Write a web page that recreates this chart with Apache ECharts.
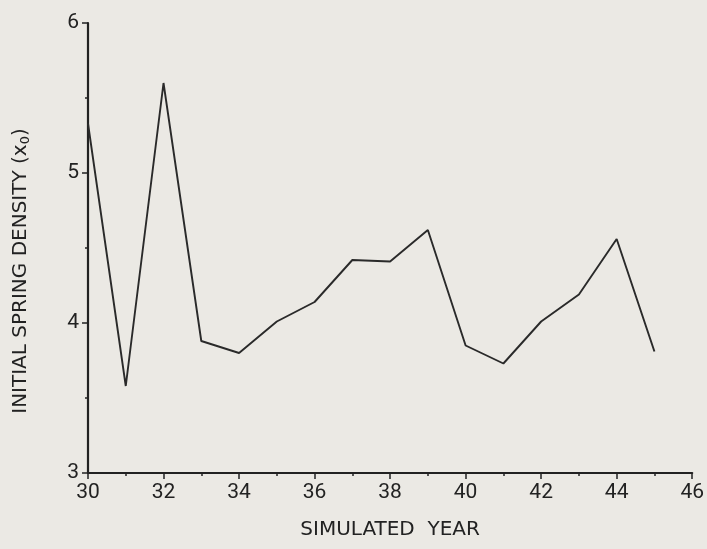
<!DOCTYPE html>
<html>
<head>
<meta charset="utf-8">
<script src="https://cdn.jsdelivr.net/npm/echarts@6/dist/echarts.min.js"></script>
<style>
  html, body { margin: 0; padding: 0; background: #ebe9e4; }
  #chart { width: 707px; height: 549px; }
</style>
</head>
<body>
<div id="chart"></div>
<script>
// simulated years and initial spring density
const years = [30, 31, 32, 33, 34, 35, 36, 37, 38, 39, 40, 41, 42, 43, 44, 45];
const density = [5.33, 3.58, 5.6, 3.88, 3.8, 4.01, 4.14, 4.42, 4.41, 4.62, 3.85, 3.73, 4.01, 4.19, 4.56, 3.81];

const xTicks = { min: 30, max: 46, step: 2 };
const yTicks = { min: 3, max: 6, step: 1 };

const ink = "#222";
const tickFont = "Roboto, sans-serif";
const nameFont = "'DejaVu Sans', sans-serif";

const chart = echarts.init(document.getElementById("chart"));

chart.setOption({
  backgroundColor: "#ebe9e4",
  animation: false,
  grid: { left: 88, right: 12, top: 23, bottom: 76 },
  xAxis: {
    type: "value",
    min: xTicks.min,
    max: xTicks.max,
    interval: xTicks.step,
    name: "SIMULATED  YEAR",
    nameLocation: "middle",
    nameGap: 47,
    nameTextStyle: { color: ink, fontSize: 20, fontFamily: nameFont },
    axisLine: { lineStyle: { color: ink, width: 2.2 } },
    axisTick: { inside: false, length: 6, lineStyle: { color: ink, width: 1.5 } },
    minorTick: { show: true, splitNumber: 2, length: 3, lineStyle: { color: ink, width: 1.5 } },
    axisLabel: { color: ink, fontSize: 21, fontFamily: tickFont, margin: 9 },
    splitLine: { show: false },
  },
  yAxis: {
    type: "value",
    min: yTicks.min,
    max: yTicks.max,
    interval: yTicks.step,
    name: "INITIAL SPRING DENSITY (x{sub|0})",
    nameLocation: "middle",
    nameGap: 56,
    nameTextStyle: {
      color: ink,
      fontSize: 20,
      fontFamily: nameFont,
      padding: [0, 46, 0, 0],
      rich: { sub: { fontSize: 13, fontFamily: nameFont, color: ink, verticalAlign: "bottom", padding: [9, 0, 0, 0] } },
    },
    axisLine: { show: true, lineStyle: { color: ink, width: 2.2 } },
    axisTick: { show: true, inside: false, length: 6, lineStyle: { color: ink, width: 1.5 } },
    minorTick: { show: true, splitNumber: 2, length: 3, lineStyle: { color: ink, width: 1.5 } },
    axisLabel: { color: ink, fontSize: 21, fontFamily: tickFont, margin: 9 },
    splitLine: { show: false },
  },
  series: [
    {
      type: "line",
      data: years.map((y, i) => [y, density[i]]),
      symbol: "none",
      lineStyle: { color: "#2a2a2a", width: 1.9 },
    },
  ],
});
</script>
</body>
</html>
